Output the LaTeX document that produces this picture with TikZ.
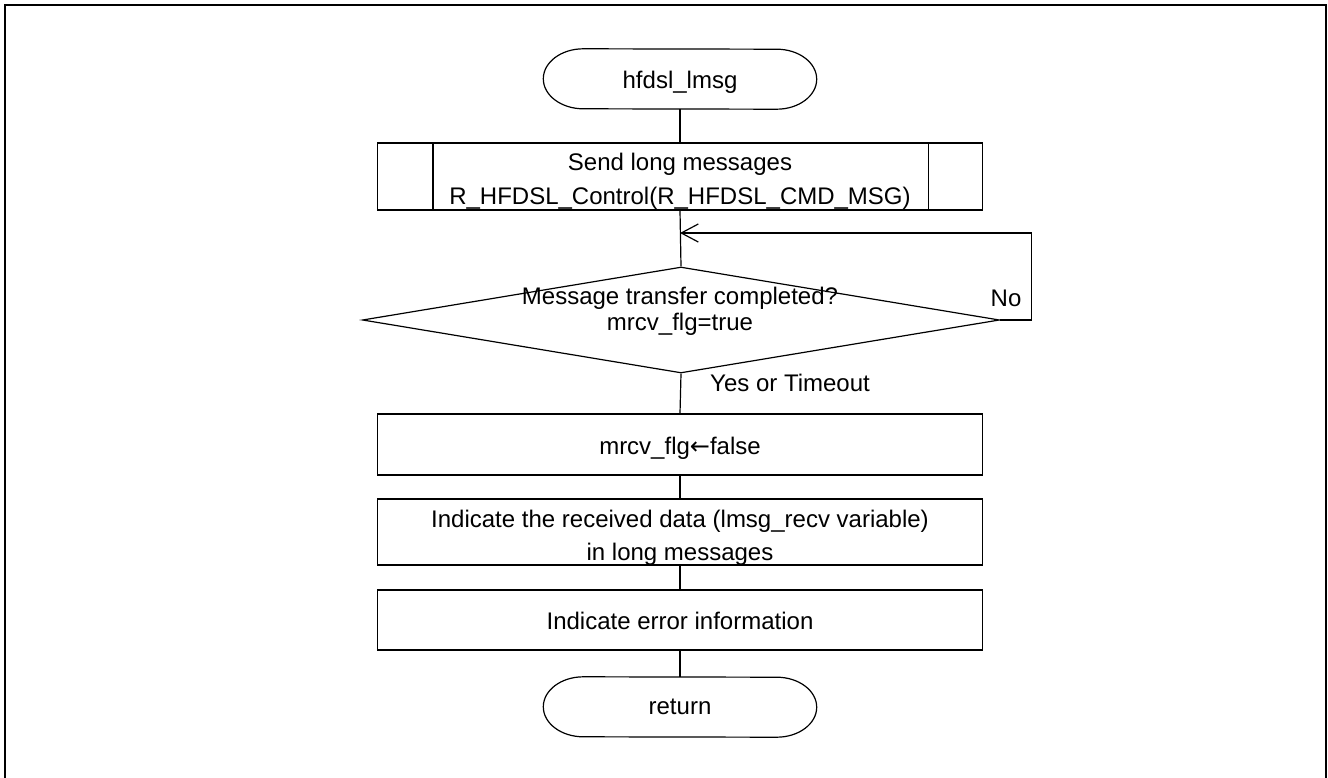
\documentclass[tikz,border=0pt]{standalone}
\usepackage{fontspec}
\setmainfont{Liberation Sans}
\newfontfamily\arrowfont{DejaVu Sans}
\usetikzlibrary{arrows.meta,shapes.geometric}
\begin{document}
\begin{tikzpicture}[x=1pt,y=-1pt,
  every node/.style={font=\fontsize{24}{34}\selectfont},
  proc/.style={draw,line width=1.2pt,minimum width=605pt,inner sep=0pt,align=center},
  conn/.style={line width=1.2pt},
  shp/.style={line width=1.2pt}]
\useasboundingbox (0,0) rectangle (1328,778);
\draw[line width=2.2pt] (5,800) -- (5,5) -- (1326,5) -- (1326,800);

% start terminal
\node[minimum width=273pt,minimum height=60pt,inner sep=0pt] (start) at (680,79) {\rule{0pt}{23.5pt}hfdsl\_lmsg};
\draw[shp] ([xshift=40pt]start.north west) arc[start angle=90,end angle=270,x radius=40pt,y radius=30pt]
  -- ([xshift=-40pt]start.south east) arc[start angle=-90,end angle=90,x radius=40pt,y radius=30pt] -- cycle;

% predefined process
\node[proc,minimum height=67pt] (pre) at (680,176.5) {\rule{0pt}{26pt}Send long messages\\R\_HFDSL\_Control(R\_HFDSL\_CMD\_MSG)};
\draw[shp] ([xshift=56pt]pre.north west) -- ([xshift=56pt]pre.south west);
\draw[shp] ([xshift=-55pt]pre.north east) -- ([xshift=-55pt]pre.south east);

% decision
\node[diamond,draw,line width=1.2pt,minimum width=637pt,minimum height=106pt,inner sep=0pt] (dec) at (681,320) {};
\node[anchor=base] (q1) at (680,304) {Message transfer completed?};
\node[anchor=base] (q2) at (680,330) {mrcv\_flg=true};
\node (no) at (1006,298.5) {No};
\node[anchor=base west,inner sep=0pt] (yes) at (710,391) {Yes or Timeout};
\coordinate (loopin) at (680,233);

% process boxes
\node[proc,minimum height=61pt] (b1) at (680,444.5) {\rule{0pt}{25.5pt}mrcv\_flg{\arrowfont ←}false};
\node[proc,minimum height=60pt,font=\fontsize{24}{33}\selectfont] (b2) at (680,532) {\rule{0pt}{28pt}Indicate the received data (lmsg\_recv variable)\\in long messages};
\node[proc,minimum height=60pt] (b3) at (680,620) {\rule{0pt}{20pt}Indicate error information};

% return terminal
\node[minimum width=273pt,minimum height=60pt,inner sep=0pt] (ret) at (680,707) {return};
\draw[shp] ([xshift=40pt]ret.north west) arc[start angle=90,end angle=270,x radius=40pt,y radius=30pt]
  -- ([xshift=-40pt]ret.south east) arc[start angle=-90,end angle=90,x radius=40pt,y radius=30pt] -- cycle;

% connectors
\draw[conn] (start.south) -- (pre.north);
\draw[conn] (pre.south) -- (dec.north);
\draw[conn] (dec.south) -- (b1.north);
\draw[conn] (b1.south) -- (b2.north);
\draw[conn] (b2.south) -- (b3.north);
\draw[conn] (b3.south) -- (ret.north);
\draw[conn,-{Straight Barb[length=17pt,width=18pt,line width=1.2pt]}] (dec.east) -- ++(31,0) |- (loopin);
\end{tikzpicture}
\end{document}
